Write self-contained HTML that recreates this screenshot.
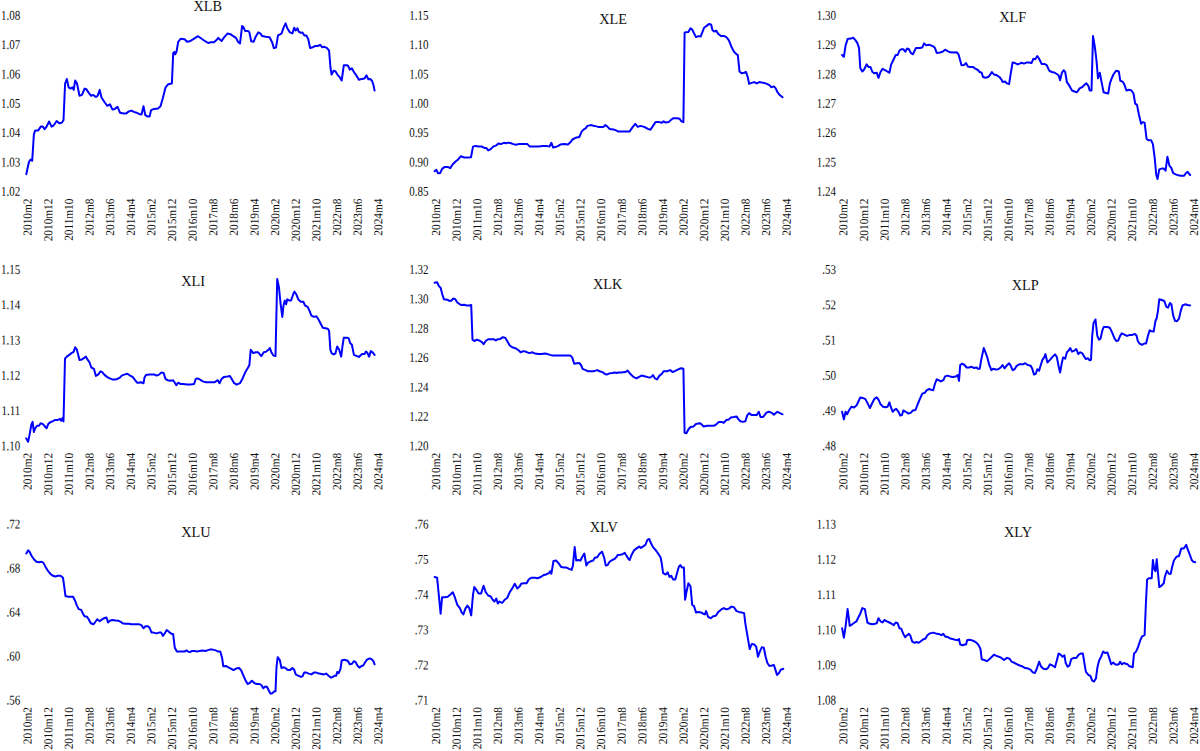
<!DOCTYPE html>
<html><head><meta charset="utf-8"><style>
html,body{margin:0;padding:0;background:#fff;}
body{width:1200px;height:751px;overflow:hidden;}
svg{display:block;}
text{font-family:"Liberation Serif",serif;fill:#111;}
.yl{font-size:13.4px;text-anchor:end;}
.xl{font-size:12.2px;text-anchor:end;}
.tt{font-size:14.3px;text-anchor:middle;}
.ln{fill:none;stroke:#0000ff;stroke-width:2;stroke-linejoin:round;stroke-linecap:round;}
</style></head><body>
<svg width="1200" height="751" viewBox="0 0 1200 751">
<polyline points="26.3,174.2 28.9,162.0 30.6,159.5 32.2,160.8 33.9,134.2 35.2,130.4 38.2,130.4 40.8,126.6 42.8,126.6 44.6,129.1 46.6,126.6 49.1,121.5 51.6,126.6 53.7,125.3 56.7,121.0 59.2,123.3 61.8,122.8 63.5,120.3 65.1,83.5 66.8,79.0 68.6,87.3 70.6,88.6 72.4,87.3 73.7,89.9 75.2,80.5 77.0,83.5 79.5,95.7 82.0,94.9 84.6,88.6 86.3,89.1 88.4,92.4 90.9,95.7 93.4,94.9 95.9,97.0 97.7,95.7 99.7,89.9 101.5,97.5 104.8,102.5 107.3,105.8 109.9,104.3 112.4,109.4 114.9,108.9 117.5,106.8 120.0,112.7 123.8,113.4 126.3,113.4 128.9,111.4 131.4,110.6 133.9,111.9 136.5,112.7 139.0,113.9 141.5,114.4 143.5,106.3 145.3,115.2 147.8,116.5 149.6,116.5 151.1,110.1 154.2,108.9 158.0,108.4 160.5,106.3 163.0,97.5 165.6,87.3 168.1,84.3 171.9,83.5 173.2,53.2 174.4,51.9 175.2,54.4 176.5,51.9 178.2,41.8 180.8,38.7 184.6,39.2 187.1,41.8 189.6,41.3 193.4,39.2 197.2,36.7 198.0,36.2 201.3,38.5 205.1,41.2 208.2,43.0 210.7,42.3 214.0,42.3 216.5,40.0 218.3,37.9 221.6,41.0 224.1,37.4 227.4,33.6 230.4,34.2 232.9,35.9 236.0,37.9 238.0,41.7 240.0,43.5 242.1,26.1 243.6,27.3 245.1,30.9 248.1,30.9 249.4,32.4 251.2,41.2 253.7,41.7 255.7,36.7 258.2,32.4 260.3,33.4 262.0,35.9 265.8,36.7 269.6,37.2 272.2,42.5 273.9,48.1 276.0,47.6 278.0,35.4 281.5,33.6 283.5,27.8 285.6,23.3 287.3,28.3 289.9,32.4 292.4,33.4 294.2,27.8 295.7,30.4 297.5,28.3 298.7,31.6 300.8,32.9 302.5,32.4 304.3,35.4 306.3,35.4 308.3,39.2 310.1,48.1 312.6,47.3 315.2,46.0 317.7,46.0 320.2,44.8 322.3,47.3 324.5,46.8 327.1,48.1 329.1,50.6 330.4,67.0 331.6,74.6 333.6,70.8 335.4,71.3 337.4,74.6 339.7,77.2 341.7,80.5 343.8,65.3 346.8,65.3 348.1,65.8 349.8,69.6 351.9,68.3 353.9,72.1 356.4,75.4 358.9,79.7 362.0,78.9 364.5,78.4 366.5,75.4 368.3,79.2 370.3,78.9 372.1,81.0 373.4,84.8 374.6,90.6" class="ln"/>
<text transform="translate(20.30,19.80) rotate(0.15) scale(0.82,1)" class="yl">1.08</text>
<text transform="translate(20.30,49.13) rotate(0.15) scale(0.82,1)" class="yl">1.07</text>
<text transform="translate(20.30,78.47) rotate(0.15) scale(0.82,1)" class="yl">1.06</text>
<text transform="translate(20.30,107.80) rotate(0.15) scale(0.82,1)" class="yl">1.05</text>
<text transform="translate(20.30,137.13) rotate(0.15) scale(0.82,1)" class="yl">1.04</text>
<text transform="translate(20.30,166.47) rotate(0.15) scale(0.82,1)" class="yl">1.03</text>
<text transform="translate(20.30,195.80) rotate(0.15) scale(0.82,1)" class="yl">1.02</text>
<text transform="translate(31.6,198.6) rotate(-89.85) scale(0.927,1)" class="xl">2010m2</text>
<text transform="translate(52.3,198.6) rotate(-89.85) scale(0.927,1)" class="xl">2010m12</text>
<text transform="translate(72.9,198.6) rotate(-89.85) scale(0.927,1)" class="xl">2011m10</text>
<text transform="translate(93.5,198.6) rotate(-89.85) scale(0.927,1)" class="xl">2012m8</text>
<text transform="translate(114.1,198.6) rotate(-89.85) scale(0.927,1)" class="xl">2013m6</text>
<text transform="translate(134.8,198.6) rotate(-89.85) scale(0.927,1)" class="xl">2014m4</text>
<text transform="translate(155.4,198.6) rotate(-89.85) scale(0.927,1)" class="xl">2015m2</text>
<text transform="translate(176.0,198.6) rotate(-89.85) scale(0.927,1)" class="xl">2015m12</text>
<text transform="translate(196.7,198.6) rotate(-89.85) scale(0.927,1)" class="xl">2016m10</text>
<text transform="translate(217.3,198.6) rotate(-89.85) scale(0.927,1)" class="xl">2017m8</text>
<text transform="translate(237.9,198.6) rotate(-89.85) scale(0.927,1)" class="xl">2018m6</text>
<text transform="translate(258.6,198.6) rotate(-89.85) scale(0.927,1)" class="xl">2019m4</text>
<text transform="translate(279.2,198.6) rotate(-89.85) scale(0.927,1)" class="xl">2020m2</text>
<text transform="translate(299.8,198.6) rotate(-89.85) scale(0.927,1)" class="xl">2020m12</text>
<text transform="translate(320.4,198.6) rotate(-89.85) scale(0.927,1)" class="xl">2021m10</text>
<text transform="translate(341.1,198.6) rotate(-89.85) scale(0.927,1)" class="xl">2022m8</text>
<text transform="translate(361.7,198.6) rotate(-89.85) scale(0.927,1)" class="xl">2023m6</text>
<text transform="translate(382.3,198.6) rotate(-89.85) scale(0.927,1)" class="xl">2024m4</text>
<text x="207.7" y="11.0" class="tt">XLB</text>
<polyline points="434.6,171.2 436.3,169.9 438.1,173.2 440.1,173.2 442.1,168.9 444.7,166.9 447.7,166.9 450.2,168.1 452.8,164.3 455.3,161.8 457.8,159.8 460.9,156.2 464.2,157.5 467.9,157.5 471.0,157.2 473.0,146.6 475.5,145.9 478.6,146.6 481.9,146.6 484.4,147.9 486.2,147.9 488.2,150.4 490.7,149.1 493.2,146.6 496.3,145.4 498.3,143.6 500.8,144.1 503.9,142.8 505.9,143.3 508.4,142.6 511.0,143.3 513.5,144.1 516.0,144.8 518.5,144.1 523.6,144.1 527.4,144.1 529.9,146.6 533.7,146.6 538.8,146.6 542.6,146.1 546.4,145.9 549.4,146.6 551.4,142.8 553.0,147.4 555.2,147.1 557.8,146.1 560.3,144.6 564.1,144.1 567.9,144.6 570.4,142.3 572.4,139.5 575.5,137.8 579.3,137.0 581.8,131.4 583.8,129.4 585.6,128.4 587.4,125.9 590.7,125.1 594.4,125.9 598.2,126.9 601.5,126.9 603.3,126.9 605.3,125.1 607.1,126.4 609.6,128.9 613.4,129.4 617.2,130.9 617.6,131.4 622.6,131.4 626.4,131.4 629.7,131.4 632.8,126.9 635.3,123.8 637.8,126.9 640.4,125.9 644.2,126.9 647.9,128.9 650.5,129.7 653.0,125.9 655.5,122.1 659.3,122.1 661.9,122.8 663.6,121.3 665.7,122.6 668.7,122.1 670.7,120.1 673.2,118.3 677.0,118.3 679.6,118.8 681.3,121.3 683.4,122.1 684.6,32.8 685.9,32.3 688.4,32.0 690.5,28.2 692.2,29.5 694.0,33.3 696.0,37.1 698.5,36.1 700.6,36.6 702.3,32.3 704.1,27.7 706.6,25.9 709.2,23.9 711.2,24.7 712.5,30.2 714.2,31.5 716.3,30.7 718.3,34.0 721.3,36.1 724.4,36.1 726.4,37.1 728.9,40.4 731.4,46.7 734.0,51.7 736.5,54.3 737.8,55.0 739.5,71.5 741.6,73.2 744.1,72.7 746.1,72.0 747.9,77.8 749.1,83.9 751.7,82.9 754.2,82.1 756.7,83.4 759.3,82.1 761.8,82.6 764.3,82.9 767.4,84.1 769.4,85.1 771.4,87.2 773.9,86.4 775.7,88.4 777.5,92.2 779.5,94.8 782.5,97.3" class="ln"/>
<text transform="translate(428.40,19.80) rotate(0.15) scale(0.82,1)" class="yl">1.15</text>
<text transform="translate(428.40,49.13) rotate(0.15) scale(0.82,1)" class="yl">1.10</text>
<text transform="translate(428.40,78.47) rotate(0.15) scale(0.82,1)" class="yl">1.05</text>
<text transform="translate(428.40,107.80) rotate(0.15) scale(0.82,1)" class="yl">1.00</text>
<text transform="translate(428.40,137.13) rotate(0.15) scale(0.82,1)" class="yl">0.95</text>
<text transform="translate(428.40,166.47) rotate(0.15) scale(0.82,1)" class="yl">0.90</text>
<text transform="translate(428.40,195.80) rotate(0.15) scale(0.82,1)" class="yl">0.85</text>
<text transform="translate(440.0,198.6) rotate(-89.85) scale(0.927,1)" class="xl">2010m2</text>
<text transform="translate(460.7,198.6) rotate(-89.85) scale(0.927,1)" class="xl">2010m12</text>
<text transform="translate(481.3,198.6) rotate(-89.85) scale(0.927,1)" class="xl">2011m10</text>
<text transform="translate(501.9,198.6) rotate(-89.85) scale(0.927,1)" class="xl">2012m8</text>
<text transform="translate(522.5,198.6) rotate(-89.85) scale(0.927,1)" class="xl">2013m6</text>
<text transform="translate(543.2,198.6) rotate(-89.85) scale(0.927,1)" class="xl">2014m4</text>
<text transform="translate(563.8,198.6) rotate(-89.85) scale(0.927,1)" class="xl">2015m2</text>
<text transform="translate(584.4,198.6) rotate(-89.85) scale(0.927,1)" class="xl">2015m12</text>
<text transform="translate(605.1,198.6) rotate(-89.85) scale(0.927,1)" class="xl">2016m10</text>
<text transform="translate(625.7,198.6) rotate(-89.85) scale(0.927,1)" class="xl">2017m8</text>
<text transform="translate(646.3,198.6) rotate(-89.85) scale(0.927,1)" class="xl">2018m6</text>
<text transform="translate(667.0,198.6) rotate(-89.85) scale(0.927,1)" class="xl">2019m4</text>
<text transform="translate(687.6,198.6) rotate(-89.85) scale(0.927,1)" class="xl">2020m2</text>
<text transform="translate(708.2,198.6) rotate(-89.85) scale(0.927,1)" class="xl">2020m12</text>
<text transform="translate(728.8,198.6) rotate(-89.85) scale(0.927,1)" class="xl">2021m10</text>
<text transform="translate(749.5,198.6) rotate(-89.85) scale(0.927,1)" class="xl">2022m8</text>
<text transform="translate(770.1,198.6) rotate(-89.85) scale(0.927,1)" class="xl">2023m6</text>
<text transform="translate(790.7,198.6) rotate(-89.85) scale(0.927,1)" class="xl">2024m4</text>
<text x="613.1" y="24.1" class="tt">XLE</text>
<polyline points="842.1,55.0 843.9,56.8 845.6,45.4 847.6,39.1 850.7,38.6 853.2,37.8 855.2,39.9 857.3,42.9 859.0,47.9 860.3,68.2 862.3,71.5 864.1,69.5 866.6,64.4 868.4,66.9 870.4,66.9 872.4,72.0 874.2,73.2 876.7,72.7 878.5,77.8 880.5,72.0 882.6,68.9 885.1,70.2 888.1,72.0 889.4,72.7 891.2,64.4 893.7,59.3 895.7,55.0 897.7,55.0 899.5,50.5 901.3,49.2 903.3,49.2 905.3,51.7 907.1,48.5 908.9,49.2 910.9,53.0 912.9,54.3 914.7,50.5 916.0,47.9 919.8,47.9 922.3,47.4 924.1,43.4 926.1,45.4 928.6,44.7 931.1,45.4 933.7,46.7 934.9,47.9 936.7,53.0 940.0,52.5 942.5,51.7 945.1,49.7 947.6,51.2 950.1,52.3 953.9,52.5 956.9,52.3 958.5,54.3 960.2,60.6 961.5,65.2 964.0,64.9 966.1,63.1 967.8,66.4 970.4,66.9 972.9,66.9 975.4,68.7 977.9,70.0 979.7,72.0 981.7,72.7 983.0,77.0 985.5,77.8 988.1,77.0 989.8,75.3 991.9,72.0 993.9,74.5 996.9,75.3 999.4,77.0 1001.5,79.6 1002.7,82.1 1005.0,81.6 1007.0,83.4 1009.1,84.1 1010.8,73.2 1012.6,62.6 1015.1,63.1 1017.7,64.4 1021.0,63.1 1021.4,62.6 1023.9,63.6 1026.4,62.6 1029.0,62.6 1031.5,63.1 1033.3,58.8 1035.3,59.3 1037.3,56.0 1039.1,58.8 1041.6,63.9 1044.2,63.9 1046.7,65.2 1049.2,70.7 1051.7,72.0 1054.3,72.5 1056.8,74.0 1058.6,75.3 1060.1,80.3 1061.9,72.7 1063.6,70.2 1065.2,72.0 1066.9,82.1 1069.5,85.9 1072.0,90.5 1074.5,91.5 1077.0,92.2 1079.6,88.4 1082.1,87.2 1084.6,84.6 1086.4,83.4 1088.4,85.9 1089.7,90.5 1091.5,90.5 1093.0,36.1 1094.8,46.7 1096.5,60.6 1098.0,78.3 1099.8,72.7 1101.6,82.1 1103.6,92.2 1106.1,93.0 1108.2,93.5 1109.9,83.4 1111.7,78.3 1113.7,74.0 1116.3,70.7 1118.8,71.5 1120.3,80.8 1122.6,81.6 1124.4,84.6 1126.4,90.5 1128.9,89.7 1131.4,90.5 1133.5,93.5 1135.2,103.6 1137.0,104.9 1139.0,115.0 1141.1,123.8 1142.8,122.1 1144.6,122.6 1146.6,139.0 1148.6,140.3 1151.2,140.3 1152.9,144.1 1154.7,158.0 1156.2,174.4 1157.5,179.0 1159.3,169.4 1161.8,168.6 1163.8,168.6 1165.6,170.7 1167.4,156.7 1169.4,165.6 1171.4,168.1 1173.2,173.2 1175.7,174.4 1178.2,175.2 1180.8,175.7 1184.1,175.7 1185.8,173.2 1187.6,171.9 1190.1,175.0" class="ln"/>
<text transform="translate(835.90,19.80) rotate(0.15) scale(0.82,1)" class="yl">1.30</text>
<text transform="translate(835.90,49.13) rotate(0.15) scale(0.82,1)" class="yl">1.29</text>
<text transform="translate(835.90,78.47) rotate(0.15) scale(0.82,1)" class="yl">1.28</text>
<text transform="translate(835.90,107.80) rotate(0.15) scale(0.82,1)" class="yl">1.27</text>
<text transform="translate(835.90,137.13) rotate(0.15) scale(0.82,1)" class="yl">1.26</text>
<text transform="translate(835.90,166.47) rotate(0.15) scale(0.82,1)" class="yl">1.25</text>
<text transform="translate(835.90,195.80) rotate(0.15) scale(0.82,1)" class="yl">1.24</text>
<text transform="translate(847.4,198.6) rotate(-89.85) scale(0.927,1)" class="xl">2010m2</text>
<text transform="translate(868.1,198.6) rotate(-89.85) scale(0.927,1)" class="xl">2010m12</text>
<text transform="translate(888.7,198.6) rotate(-89.85) scale(0.927,1)" class="xl">2011m10</text>
<text transform="translate(909.3,198.6) rotate(-89.85) scale(0.927,1)" class="xl">2012m8</text>
<text transform="translate(929.9,198.6) rotate(-89.85) scale(0.927,1)" class="xl">2013m6</text>
<text transform="translate(950.6,198.6) rotate(-89.85) scale(0.927,1)" class="xl">2014m4</text>
<text transform="translate(971.2,198.6) rotate(-89.85) scale(0.927,1)" class="xl">2015m2</text>
<text transform="translate(991.8,198.6) rotate(-89.85) scale(0.927,1)" class="xl">2015m12</text>
<text transform="translate(1012.5,198.6) rotate(-89.85) scale(0.927,1)" class="xl">2016m10</text>
<text transform="translate(1033.1,198.6) rotate(-89.85) scale(0.927,1)" class="xl">2017m8</text>
<text transform="translate(1053.7,198.6) rotate(-89.85) scale(0.927,1)" class="xl">2018m6</text>
<text transform="translate(1074.4,198.6) rotate(-89.85) scale(0.927,1)" class="xl">2019m4</text>
<text transform="translate(1095.0,198.6) rotate(-89.85) scale(0.927,1)" class="xl">2020m2</text>
<text transform="translate(1115.6,198.6) rotate(-89.85) scale(0.927,1)" class="xl">2020m12</text>
<text transform="translate(1136.2,198.6) rotate(-89.85) scale(0.927,1)" class="xl">2021m10</text>
<text transform="translate(1156.9,198.6) rotate(-89.85) scale(0.927,1)" class="xl">2022m8</text>
<text transform="translate(1177.5,198.6) rotate(-89.85) scale(0.927,1)" class="xl">2023m6</text>
<text transform="translate(1198.1,198.6) rotate(-89.85) scale(0.927,1)" class="xl">2024m4</text>
<text x="1012.8" y="22.3" class="tt">XLF</text>
<polyline points="26.3,438.4 28.1,441.7 29.6,434.6 31.4,424.4 32.6,421.9 33.9,432.0 35.2,428.2 37.2,425.7 39.0,425.7 40.7,423.2 43.3,424.4 45.3,427.0 46.6,428.2 48.3,423.9 50.9,421.9 52.9,421.2 55.4,419.9 57.9,419.9 60.0,418.9 61.2,420.7 62.5,418.1 63.5,421.4 65.0,358.7 66.8,356.6 69.3,354.9 71.9,352.8 73.6,351.8 75.2,347.3 76.9,349.8 79.5,359.9 82.0,359.4 83.8,358.2 85.8,356.6 87.8,359.9 89.6,362.5 91.3,367.5 93.9,368.8 95.9,375.9 98.4,374.4 100.5,371.3 102.2,372.1 104.8,375.1 107.3,377.1 109.8,378.4 112.3,379.4 114.9,379.4 117.4,378.9 119.9,377.6 121.7,375.6 124.2,374.6 127.5,373.8 130.1,375.6 132.6,376.9 135.1,380.2 137.1,382.7 138.9,382.7 140.9,382.2 143.5,383.2 144.5,377.6 146.0,375.1 149.0,374.6 151.6,374.6 154.1,374.4 156.6,375.6 159.1,374.6 161.2,372.6 163.7,373.1 165.5,378.9 167.5,380.2 170.5,380.7 173.1,380.2 174.8,382.7 176.4,385.2 178.1,382.7 180.7,384.0 183.2,384.0 187.0,384.5 190.8,384.5 194.1,384.0 195.8,378.9 197.6,378.4 200.1,379.7 202.7,381.4 206.0,382.2 207.6,382.2 211.4,382.2 214.7,382.2 217.8,380.2 219.5,383.2 221.6,378.9 224.1,376.9 227.4,376.4 229.9,375.9 231.7,378.9 234.2,383.2 236.7,384.7 240.0,383.2 242.6,378.4 245.1,372.6 248.1,367.5 249.4,365.0 250.7,349.8 253.2,353.1 255.7,352.3 258.2,352.3 260.3,354.9 261.3,356.1 263.8,352.3 266.3,351.6 268.4,349.8 269.9,348.0 271.4,352.3 273.4,355.6 275.5,356.1 277.2,279.0 279.0,287.8 280.5,303.0 282.3,316.9 283.5,305.5 284.8,300.5 286.1,304.3 287.3,299.2 289.1,300.5 291.1,300.5 293.2,294.2 294.4,291.6 296.2,294.2 298.2,299.2 300.8,301.7 303.3,301.7 305.1,305.5 307.6,306.8 309.4,310.6 311.4,315.7 313.9,316.9 316.4,316.2 318.5,319.5 320.2,322.7 322.8,327.8 325.3,328.3 327.8,328.8 329.1,330.8 330.4,349.8 331.6,353.1 333.6,354.4 335.4,353.6 337.2,346.5 339.2,349.8 341.2,356.6 342.5,346.0 343.8,337.7 346.8,337.7 348.8,338.4 350.1,343.0 351.9,344.8 353.9,354.9 356.9,356.1 358.9,356.9 362.0,354.1 364.5,354.1 365.8,351.6 367.0,352.3 369.1,356.6 370.8,351.1 372.6,352.3 374.6,354.9" class="ln"/>
<text transform="translate(20.30,273.90) rotate(0.15) scale(0.82,1)" class="yl">1.15</text>
<text transform="translate(20.30,309.16) rotate(0.15) scale(0.82,1)" class="yl">1.14</text>
<text transform="translate(20.30,344.42) rotate(0.15) scale(0.82,1)" class="yl">1.13</text>
<text transform="translate(20.30,379.68) rotate(0.15) scale(0.82,1)" class="yl">1.12</text>
<text transform="translate(20.30,414.94) rotate(0.15) scale(0.82,1)" class="yl">1.11</text>
<text transform="translate(20.30,450.20) rotate(0.15) scale(0.82,1)" class="yl">1.10</text>
<text transform="translate(31.6,452.9) rotate(-89.85) scale(0.927,1)" class="xl">2010m2</text>
<text transform="translate(52.3,452.9) rotate(-89.85) scale(0.927,1)" class="xl">2010m12</text>
<text transform="translate(72.9,452.9) rotate(-89.85) scale(0.927,1)" class="xl">2011m10</text>
<text transform="translate(93.5,452.9) rotate(-89.85) scale(0.927,1)" class="xl">2012m8</text>
<text transform="translate(114.1,452.9) rotate(-89.85) scale(0.927,1)" class="xl">2013m6</text>
<text transform="translate(134.8,452.9) rotate(-89.85) scale(0.927,1)" class="xl">2014m4</text>
<text transform="translate(155.4,452.9) rotate(-89.85) scale(0.927,1)" class="xl">2015m2</text>
<text transform="translate(176.0,452.9) rotate(-89.85) scale(0.927,1)" class="xl">2015m12</text>
<text transform="translate(196.7,452.9) rotate(-89.85) scale(0.927,1)" class="xl">2016m10</text>
<text transform="translate(217.3,452.9) rotate(-89.85) scale(0.927,1)" class="xl">2017m8</text>
<text transform="translate(237.9,452.9) rotate(-89.85) scale(0.927,1)" class="xl">2018m6</text>
<text transform="translate(258.6,452.9) rotate(-89.85) scale(0.927,1)" class="xl">2019m4</text>
<text transform="translate(279.2,452.9) rotate(-89.85) scale(0.927,1)" class="xl">2020m2</text>
<text transform="translate(299.8,452.9) rotate(-89.85) scale(0.927,1)" class="xl">2020m12</text>
<text transform="translate(320.4,452.9) rotate(-89.85) scale(0.927,1)" class="xl">2021m10</text>
<text transform="translate(341.1,452.9) rotate(-89.85) scale(0.927,1)" class="xl">2022m8</text>
<text transform="translate(361.7,452.9) rotate(-89.85) scale(0.927,1)" class="xl">2023m6</text>
<text transform="translate(382.3,452.9) rotate(-89.85) scale(0.927,1)" class="xl">2024m4</text>
<text x="193.2" y="286.3" class="tt">XLI</text>
<polyline points="434.6,282.8 437.1,282.3 438.9,286.1 440.6,287.8 442.1,293.6 443.9,299.2 447.2,299.7 449.7,301.0 451.5,300.5 453.3,298.5 455.3,299.2 457.3,302.5 459.9,304.3 461.6,305.0 464.2,304.8 466.7,305.5 469.2,305.5 471.2,305.0 472.5,339.7 474.3,341.0 476.8,339.7 479.3,340.5 481.9,342.2 483.6,344.2 485.7,341.0 488.2,339.2 490.7,339.2 493.8,339.2 495.8,340.5 497.8,339.2 500.3,338.9 502.9,337.2 505.4,337.9 507.2,341.0 509.7,345.5 512.2,347.3 516.0,348.5 518.5,350.3 520.6,352.3 523.6,351.1 526.1,351.8 529.2,353.1 532.5,352.3 535.0,353.6 538.3,354.1 541.3,354.1 545.1,353.6 547.6,354.1 550.2,354.9 552.7,355.6 556.5,355.6 561.6,355.6 566.6,355.6 570.4,355.6 572.2,357.4 574.2,363.7 576.7,363.2 579.3,363.0 581.0,365.0 582.6,368.8 585.6,370.1 588.1,371.3 590.7,371.3 593.2,371.3 595.7,370.6 597.5,370.1 599.5,371.3 602.5,372.1 604.6,373.8 606.6,374.6 609.6,373.3 612.2,373.1 614.7,372.6 617.2,373.1 617.6,372.6 621.4,372.6 625.2,372.1 627.7,370.6 630.2,373.8 633.3,376.9 636.6,378.4 639.1,376.9 641.6,375.6 645.4,376.4 649.2,377.6 651.0,377.1 653.0,375.1 655.0,378.4 657.1,379.4 659.3,375.9 661.9,373.8 663.6,371.3 666.9,371.3 670.2,370.1 672.7,372.1 675.3,370.8 678.3,369.3 681.3,368.3 683.4,368.8 684.6,432.8 686.4,433.3 688.4,429.5 690.5,427.0 693.5,426.5 696.0,423.9 699.8,423.2 701.6,424.4 703.6,426.5 707.4,425.7 711.2,425.7 714.2,425.7 716.3,424.4 718.8,421.9 721.3,421.9 723.8,422.7 726.4,419.9 728.9,419.4 730.9,417.4 734.0,416.9 736.5,416.4 738.5,419.4 740.3,421.2 742.8,421.9 745.4,421.2 747.1,415.6 749.1,413.1 751.7,415.1 754.2,415.1 756.7,415.1 758.8,411.8 760.5,416.9 763.1,416.9 764.8,414.8 766.4,412.6 768.9,411.8 771.4,412.6 773.9,414.8 775.7,413.1 777.5,411.8 780.0,413.1 782.5,414.3" class="ln"/>
<text transform="translate(428.40,273.90) rotate(0.15) scale(0.82,1)" class="yl">1.32</text>
<text transform="translate(428.40,303.28) rotate(0.15) scale(0.82,1)" class="yl">1.30</text>
<text transform="translate(428.40,332.67) rotate(0.15) scale(0.82,1)" class="yl">1.28</text>
<text transform="translate(428.40,362.05) rotate(0.15) scale(0.82,1)" class="yl">1.26</text>
<text transform="translate(428.40,391.43) rotate(0.15) scale(0.82,1)" class="yl">1.24</text>
<text transform="translate(428.40,420.82) rotate(0.15) scale(0.82,1)" class="yl">1.22</text>
<text transform="translate(428.40,450.20) rotate(0.15) scale(0.82,1)" class="yl">1.20</text>
<text transform="translate(440.0,452.9) rotate(-89.85) scale(0.927,1)" class="xl">2010m2</text>
<text transform="translate(460.7,452.9) rotate(-89.85) scale(0.927,1)" class="xl">2010m12</text>
<text transform="translate(481.3,452.9) rotate(-89.85) scale(0.927,1)" class="xl">2011m10</text>
<text transform="translate(501.9,452.9) rotate(-89.85) scale(0.927,1)" class="xl">2012m8</text>
<text transform="translate(522.5,452.9) rotate(-89.85) scale(0.927,1)" class="xl">2013m6</text>
<text transform="translate(543.2,452.9) rotate(-89.85) scale(0.927,1)" class="xl">2014m4</text>
<text transform="translate(563.8,452.9) rotate(-89.85) scale(0.927,1)" class="xl">2015m2</text>
<text transform="translate(584.4,452.9) rotate(-89.85) scale(0.927,1)" class="xl">2015m12</text>
<text transform="translate(605.1,452.9) rotate(-89.85) scale(0.927,1)" class="xl">2016m10</text>
<text transform="translate(625.7,452.9) rotate(-89.85) scale(0.927,1)" class="xl">2017m8</text>
<text transform="translate(646.3,452.9) rotate(-89.85) scale(0.927,1)" class="xl">2018m6</text>
<text transform="translate(667.0,452.9) rotate(-89.85) scale(0.927,1)" class="xl">2019m4</text>
<text transform="translate(687.6,452.9) rotate(-89.85) scale(0.927,1)" class="xl">2020m2</text>
<text transform="translate(708.2,452.9) rotate(-89.85) scale(0.927,1)" class="xl">2020m12</text>
<text transform="translate(728.8,452.9) rotate(-89.85) scale(0.927,1)" class="xl">2021m10</text>
<text transform="translate(749.5,452.9) rotate(-89.85) scale(0.927,1)" class="xl">2022m8</text>
<text transform="translate(770.1,452.9) rotate(-89.85) scale(0.927,1)" class="xl">2023m6</text>
<text transform="translate(790.7,452.9) rotate(-89.85) scale(0.927,1)" class="xl">2024m4</text>
<text x="607.6" y="289.1" class="tt">XLK</text>
<polyline points="842.1,411.8 843.9,419.4 845.6,411.8 847.1,414.3 848.9,410.5 851.4,406.7 854.0,407.5 856.5,405.5 858.3,401.7 860.3,397.4 862.8,397.9 865.4,399.1 867.4,402.9 869.9,408.0 871.7,404.2 874.2,399.1 876.7,397.4 878.5,399.7 880.5,404.2 883.1,406.7 885.6,407.2 887.6,406.7 889.4,402.4 890.7,406.7 892.7,411.8 894.5,409.8 896.2,408.8 898.2,411.3 900.3,415.6 902.0,415.1 903.3,410.5 905.8,411.8 908.4,413.6 910.9,412.6 912.9,410.5 915.5,410.0 917.2,405.5 919.8,399.1 922.3,393.6 924.8,392.8 926.6,390.3 929.1,389.0 931.1,389.8 933.2,390.3 934.9,384.0 936.7,379.4 938.7,380.2 940.8,381.4 943.3,380.2 945.1,376.4 947.6,375.6 950.1,376.4 952.6,376.9 955.9,376.4 957.7,375.1 959.0,380.9 960.2,365.0 962.0,363.7 964.5,365.0 966.6,367.5 969.1,367.5 971.6,366.8 974.1,368.0 976.7,367.5 977.9,368.8 979.7,368.8 981.2,359.9 983.8,348.0 985.5,352.3 987.3,357.4 989.3,365.0 991.4,370.1 993.1,368.8 995.7,369.5 998.2,369.3 1000.7,367.5 1002.5,365.0 1004.5,368.3 1006.5,365.8 1009.1,363.2 1010.8,365.8 1012.6,370.1 1014.6,369.3 1016.7,365.8 1019.7,364.2 1023.5,364.2 1025.2,363.2 1027.7,365.0 1030.7,365.8 1032.3,368.8 1034.0,374.6 1035.8,373.8 1037.3,369.3 1039.1,370.8 1040.4,366.3 1042.4,359.9 1044.2,357.4 1045.4,354.1 1047.4,362.5 1050.0,359.9 1052.5,356.9 1055.0,354.4 1056.8,356.9 1058.6,366.3 1060.1,372.6 1061.9,362.5 1063.1,357.4 1065.2,358.7 1066.9,352.3 1068.7,350.6 1070.2,348.0 1072.0,351.6 1074.5,350.6 1076.3,349.1 1078.3,354.1 1080.3,352.3 1082.1,353.1 1083.9,356.1 1085.9,359.2 1087.9,358.2 1089.7,360.4 1091.0,359.9 1092.2,335.9 1093.5,323.2 1095.5,319.5 1097.3,335.9 1099.1,339.7 1100.6,338.4 1102.3,330.8 1103.6,327.0 1107.4,327.0 1109.9,327.8 1112.5,333.4 1114.5,338.4 1116.3,341.0 1118.3,340.5 1120.1,335.9 1121.8,333.4 1124.4,334.6 1126.9,335.9 1129.4,335.1 1131.9,335.1 1134.5,333.9 1136.5,335.4 1137.8,341.0 1139.5,343.5 1142.1,344.8 1144.1,343.5 1146.1,343.5 1147.9,335.9 1149.7,330.3 1151.7,331.3 1153.7,331.6 1155.5,320.7 1156.7,318.2 1158.0,310.6 1159.3,299.2 1161.8,300.0 1164.3,301.0 1166.4,306.8 1168.1,307.6 1169.9,303.0 1171.4,304.3 1173.2,315.7 1175.0,320.7 1177.0,321.2 1179.0,318.7 1180.8,310.6 1182.5,305.5 1185.1,304.3 1187.6,305.0 1190.1,305.5" class="ln"/>
<text transform="translate(835.90,273.90) rotate(0.15) scale(0.82,1)" class="yl">.53</text>
<text transform="translate(835.90,309.16) rotate(0.15) scale(0.82,1)" class="yl">.52</text>
<text transform="translate(835.90,344.42) rotate(0.15) scale(0.82,1)" class="yl">.51</text>
<text transform="translate(835.90,379.68) rotate(0.15) scale(0.82,1)" class="yl">.50</text>
<text transform="translate(835.90,414.94) rotate(0.15) scale(0.82,1)" class="yl">.49</text>
<text transform="translate(835.90,450.20) rotate(0.15) scale(0.82,1)" class="yl">.48</text>
<text transform="translate(847.4,452.9) rotate(-89.85) scale(0.927,1)" class="xl">2010m2</text>
<text transform="translate(868.1,452.9) rotate(-89.85) scale(0.927,1)" class="xl">2010m12</text>
<text transform="translate(888.7,452.9) rotate(-89.85) scale(0.927,1)" class="xl">2011m10</text>
<text transform="translate(909.3,452.9) rotate(-89.85) scale(0.927,1)" class="xl">2012m8</text>
<text transform="translate(929.9,452.9) rotate(-89.85) scale(0.927,1)" class="xl">2013m6</text>
<text transform="translate(950.6,452.9) rotate(-89.85) scale(0.927,1)" class="xl">2014m4</text>
<text transform="translate(971.2,452.9) rotate(-89.85) scale(0.927,1)" class="xl">2015m2</text>
<text transform="translate(991.8,452.9) rotate(-89.85) scale(0.927,1)" class="xl">2015m12</text>
<text transform="translate(1012.5,452.9) rotate(-89.85) scale(0.927,1)" class="xl">2016m10</text>
<text transform="translate(1033.1,452.9) rotate(-89.85) scale(0.927,1)" class="xl">2017m8</text>
<text transform="translate(1053.7,452.9) rotate(-89.85) scale(0.927,1)" class="xl">2018m6</text>
<text transform="translate(1074.4,452.9) rotate(-89.85) scale(0.927,1)" class="xl">2019m4</text>
<text transform="translate(1095.0,452.9) rotate(-89.85) scale(0.927,1)" class="xl">2020m2</text>
<text transform="translate(1115.6,452.9) rotate(-89.85) scale(0.927,1)" class="xl">2020m12</text>
<text transform="translate(1136.2,452.9) rotate(-89.85) scale(0.927,1)" class="xl">2021m10</text>
<text transform="translate(1156.9,452.9) rotate(-89.85) scale(0.927,1)" class="xl">2022m8</text>
<text transform="translate(1177.5,452.9) rotate(-89.85) scale(0.927,1)" class="xl">2023m6</text>
<text transform="translate(1198.1,452.9) rotate(-89.85) scale(0.927,1)" class="xl">2024m4</text>
<text x="1025.2" y="290.1" class="tt">XLP</text>
<polyline points="26.3,553.5 28.1,550.4 29.6,551.7 31.4,555.5 33.9,559.3 36.4,561.8 39.0,562.3 41.5,561.8 43.3,562.6 45.3,566.4 47.8,570.7 50.4,573.9 52.9,575.7 55.4,576.5 57.9,575.7 60.5,575.7 63.0,577.7 64.3,587.1 65.5,596.0 68.1,596.7 70.6,596.7 73.1,596.7 75.2,601.0 76.9,605.6 78.7,609.1 81.2,609.9 82.7,613.2 84.5,616.2 87.0,616.7 88.8,619.5 90.8,623.3 93.4,624.3 95.4,621.8 97.2,619.2 99.7,621.3 102.2,619.2 104.8,618.0 106.5,617.5 108.0,622.5 109.8,620.8 112.3,620.0 115.6,620.5 118.7,620.8 120.7,621.8 122.5,623.3 125.0,623.8 128.8,623.8 131.3,624.3 135.1,624.3 138.9,624.3 141.4,625.1 143.5,628.3 145.2,626.3 147.8,626.3 149.5,627.6 151.6,632.6 153.6,632.6 156.6,633.4 159.1,632.6 161.2,632.6 162.9,635.9 164.7,633.4 166.7,630.1 168.0,630.9 169.8,632.6 171.8,633.9 173.1,633.9 174.8,647.8 176.9,651.6 179.4,651.6 181.9,651.6 184.4,651.6 186.5,650.4 188.2,651.6 190.0,652.1 192.0,650.9 194.6,651.1 197.1,651.6 199.6,650.9 202.2,650.4 206.0,650.9 207.1,650.4 209.7,649.6 212.7,649.6 215.7,650.4 218.3,651.6 220.3,651.6 222.1,657.9 223.3,666.3 225.9,666.0 228.4,667.3 230.9,668.6 233.5,670.1 236.0,668.6 239.3,668.1 241.3,670.6 243.1,674.9 245.1,679.4 247.6,684.0 249.4,683.2 251.9,680.7 254.5,683.2 257.0,684.0 259.5,684.0 261.3,685.0 263.3,688.3 265.3,686.5 267.1,687.0 268.9,690.8 270.4,693.4 272.2,693.4 273.9,691.6 275.5,691.3 276.5,666.8 277.7,657.2 279.8,660.0 281.5,668.1 283.5,667.3 285.6,668.1 287.3,669.8 289.9,670.1 292.4,668.1 294.2,669.8 295.7,674.4 298.2,675.7 300.8,676.9 302.5,676.4 304.3,672.4 306.3,672.6 308.8,673.6 311.4,674.4 313.9,672.6 316.4,672.6 319.0,673.6 321.5,673.9 324.0,674.4 326.1,673.6 328.6,675.7 331.1,677.7 332.9,676.9 334.7,675.7 336.2,675.7 337.2,671.9 338.7,673.1 340.5,668.8 341.7,660.5 344.3,659.7 346.8,660.5 348.1,661.2 349.8,664.3 351.9,663.8 353.9,661.2 355.7,662.2 357.4,665.5 359.4,667.6 361.5,666.0 363.2,665.5 365.0,662.5 367.0,659.7 369.6,658.4 371.6,659.2 373.4,661.2 374.6,664.3" class="ln"/>
<text transform="translate(20.30,528.60) rotate(0.15) scale(0.82,1)" class="yl">.72</text>
<text transform="translate(20.30,572.60) rotate(0.15) scale(0.82,1)" class="yl">.68</text>
<text transform="translate(20.30,616.60) rotate(0.15) scale(0.82,1)" class="yl">.64</text>
<text transform="translate(20.30,660.60) rotate(0.15) scale(0.82,1)" class="yl">.60</text>
<text transform="translate(20.30,704.60) rotate(0.15) scale(0.82,1)" class="yl">.56</text>
<text transform="translate(31.6,707.1) rotate(-89.85) scale(0.927,1)" class="xl">2010m2</text>
<text transform="translate(52.3,707.1) rotate(-89.85) scale(0.927,1)" class="xl">2010m12</text>
<text transform="translate(72.9,707.1) rotate(-89.85) scale(0.927,1)" class="xl">2011m10</text>
<text transform="translate(93.5,707.1) rotate(-89.85) scale(0.927,1)" class="xl">2012m8</text>
<text transform="translate(114.1,707.1) rotate(-89.85) scale(0.927,1)" class="xl">2013m6</text>
<text transform="translate(134.8,707.1) rotate(-89.85) scale(0.927,1)" class="xl">2014m4</text>
<text transform="translate(155.4,707.1) rotate(-89.85) scale(0.927,1)" class="xl">2015m2</text>
<text transform="translate(176.0,707.1) rotate(-89.85) scale(0.927,1)" class="xl">2015m12</text>
<text transform="translate(196.7,707.1) rotate(-89.85) scale(0.927,1)" class="xl">2016m10</text>
<text transform="translate(217.3,707.1) rotate(-89.85) scale(0.927,1)" class="xl">2017m8</text>
<text transform="translate(237.9,707.1) rotate(-89.85) scale(0.927,1)" class="xl">2018m6</text>
<text transform="translate(258.6,707.1) rotate(-89.85) scale(0.927,1)" class="xl">2019m4</text>
<text transform="translate(279.2,707.1) rotate(-89.85) scale(0.927,1)" class="xl">2020m2</text>
<text transform="translate(299.8,707.1) rotate(-89.85) scale(0.927,1)" class="xl">2020m12</text>
<text transform="translate(320.4,707.1) rotate(-89.85) scale(0.927,1)" class="xl">2021m10</text>
<text transform="translate(341.1,707.1) rotate(-89.85) scale(0.927,1)" class="xl">2022m8</text>
<text transform="translate(361.7,707.1) rotate(-89.85) scale(0.927,1)" class="xl">2023m6</text>
<text transform="translate(382.3,707.1) rotate(-89.85) scale(0.927,1)" class="xl">2024m4</text>
<text x="196.0" y="536.9" class="tt">XLU</text>
<polyline points="434.6,577.0 437.1,577.7 438.9,596.0 440.6,613.7 442.1,597.2 444.7,597.2 447.7,596.7 450.2,594.7 452.8,592.2 454.8,597.2 457.3,604.8 459.9,608.1 461.6,612.4 463.4,614.4 465.4,608.6 467.4,605.6 469.2,608.1 471.2,615.4 473.0,594.7 474.3,587.1 476.8,590.4 478.6,593.4 481.1,593.4 483.6,585.8 485.7,592.2 488.2,595.5 490.7,596.5 492.7,599.8 494.5,601.5 496.3,598.5 497.8,603.5 499.6,601.5 502.1,603.0 504.6,599.8 507.2,598.0 509.7,592.2 512.2,588.4 514.8,583.8 517.3,588.4 519.8,586.3 521.1,583.8 523.6,583.3 526.6,583.3 528.7,579.5 531.2,577.7 535.0,577.7 537.5,578.2 540.8,577.0 543.3,575.2 545.9,574.5 548.9,573.2 550.2,571.2 551.4,573.7 553.5,561.0 556.0,560.5 558.5,563.1 561.1,566.9 564.1,567.4 566.6,567.6 569.1,568.9 571.7,569.9 572.9,565.6 574.7,547.1 576.2,560.5 578.0,560.0 580.5,560.5 582.3,556.7 584.3,553.5 586.4,565.6 588.1,562.6 590.7,561.3 593.2,560.5 595.0,557.5 597.0,557.5 599.5,553.7 602.0,551.7 604.1,557.5 605.8,565.6 607.6,565.1 609.6,561.8 612.2,560.0 614.7,558.8 617.2,556.0 617.6,555.0 620.1,554.7 622.6,554.2 624.7,552.9 626.4,555.5 628.2,558.5 629.7,560.0 631.5,555.0 634.0,550.4 636.6,548.4 639.1,546.6 640.9,547.9 642.9,546.6 645.4,544.9 647.4,539.8 649.2,539.0 651.0,543.3 653.0,547.1 655.5,549.9 658.1,553.5 660.6,557.5 661.9,564.3 663.1,573.2 665.7,574.5 667.7,572.4 669.5,577.0 671.2,575.7 673.2,579.5 675.3,579.5 677.0,573.2 678.8,566.9 680.3,565.1 682.1,567.6 683.9,567.6 685.1,599.8 686.4,592.2 688.4,583.3 690.5,586.3 692.2,604.8 694.0,606.1 696.0,612.4 698.5,611.9 701.1,612.4 703.1,613.7 704.9,614.4 706.1,611.1 708.2,617.0 710.7,618.2 713.2,616.2 715.8,615.7 718.3,611.9 721.3,609.4 723.8,608.1 726.4,609.4 728.9,608.6 731.4,606.6 734.0,607.3 736.5,611.1 739.0,611.9 741.6,612.4 744.1,613.2 745.4,623.8 747.1,633.9 749.7,649.1 751.7,644.0 754.2,644.5 756.2,646.6 758.0,656.7 759.8,651.6 761.8,647.3 763.8,647.8 765.6,656.7 767.4,663.0 769.4,666.0 771.9,665.5 773.9,665.0 775.7,670.6 777.0,674.9 779.0,673.1 780.8,669.8 783.3,668.8" class="ln"/>
<text transform="translate(428.40,528.60) rotate(0.15) scale(0.82,1)" class="yl">.76</text>
<text transform="translate(428.40,563.80) rotate(0.15) scale(0.82,1)" class="yl">.75</text>
<text transform="translate(428.40,599.00) rotate(0.15) scale(0.82,1)" class="yl">.74</text>
<text transform="translate(428.40,634.20) rotate(0.15) scale(0.82,1)" class="yl">.73</text>
<text transform="translate(428.40,669.40) rotate(0.15) scale(0.82,1)" class="yl">.72</text>
<text transform="translate(428.40,704.60) rotate(0.15) scale(0.82,1)" class="yl">.71</text>
<text transform="translate(440.0,707.1) rotate(-89.85) scale(0.927,1)" class="xl">2010m2</text>
<text transform="translate(460.7,707.1) rotate(-89.85) scale(0.927,1)" class="xl">2010m12</text>
<text transform="translate(481.3,707.1) rotate(-89.85) scale(0.927,1)" class="xl">2011m10</text>
<text transform="translate(501.9,707.1) rotate(-89.85) scale(0.927,1)" class="xl">2012m8</text>
<text transform="translate(522.5,707.1) rotate(-89.85) scale(0.927,1)" class="xl">2013m6</text>
<text transform="translate(543.2,707.1) rotate(-89.85) scale(0.927,1)" class="xl">2014m4</text>
<text transform="translate(563.8,707.1) rotate(-89.85) scale(0.927,1)" class="xl">2015m2</text>
<text transform="translate(584.4,707.1) rotate(-89.85) scale(0.927,1)" class="xl">2015m12</text>
<text transform="translate(605.1,707.1) rotate(-89.85) scale(0.927,1)" class="xl">2016m10</text>
<text transform="translate(625.7,707.1) rotate(-89.85) scale(0.927,1)" class="xl">2017m8</text>
<text transform="translate(646.3,707.1) rotate(-89.85) scale(0.927,1)" class="xl">2018m6</text>
<text transform="translate(667.0,707.1) rotate(-89.85) scale(0.927,1)" class="xl">2019m4</text>
<text transform="translate(687.6,707.1) rotate(-89.85) scale(0.927,1)" class="xl">2020m2</text>
<text transform="translate(708.2,707.1) rotate(-89.85) scale(0.927,1)" class="xl">2020m12</text>
<text transform="translate(728.8,707.1) rotate(-89.85) scale(0.927,1)" class="xl">2021m10</text>
<text transform="translate(749.5,707.1) rotate(-89.85) scale(0.927,1)" class="xl">2022m8</text>
<text transform="translate(770.1,707.1) rotate(-89.85) scale(0.927,1)" class="xl">2023m6</text>
<text transform="translate(790.7,707.1) rotate(-89.85) scale(0.927,1)" class="xl">2024m4</text>
<text x="603.8" y="531.9" class="tt">XLV</text>
<polyline points="842.1,628.3 843.9,637.7 845.6,626.3 847.6,609.1 848.9,618.7 849.7,625.8 852.2,624.3 854.7,622.5 856.5,621.3 858.3,617.5 860.3,613.7 862.3,608.1 864.9,609.1 865.9,614.9 867.4,622.5 869.9,623.8 872.4,624.3 875.0,623.8 876.7,623.3 878.5,618.2 880.5,621.3 882.6,622.5 884.3,620.0 886.9,621.3 889.4,622.5 891.9,623.8 893.7,625.1 895.7,622.5 897.7,623.3 899.5,628.3 901.3,628.8 903.3,633.9 905.3,637.2 907.1,635.2 908.9,633.9 910.4,635.9 912.2,641.5 914.7,642.8 916.5,642.0 918.5,642.8 920.5,641.5 923.0,639.5 925.6,638.5 927.3,635.2 929.9,633.4 933.2,632.6 935.7,633.4 938.7,633.9 941.3,635.2 943.3,633.9 945.1,636.4 947.6,636.9 950.1,638.5 952.6,639.0 955.2,639.7 957.7,640.2 959.0,639.0 960.2,644.5 962.8,645.3 964.5,644.5 966.1,644.5 967.1,640.2 969.1,639.7 971.6,640.2 974.7,641.5 976.7,642.8 978.7,645.3 980.5,649.1 981.7,659.2 984.3,660.0 986.8,661.2 989.3,659.2 991.9,656.7 993.9,654.7 996.4,655.9 998.9,656.7 1001.5,657.9 1004.0,660.0 1007.0,657.9 1009.6,658.7 1011.6,661.7 1014.6,663.0 1017.2,664.3 1019.7,665.5 1022.2,666.3 1025.2,668.1 1028.2,668.6 1030.7,669.8 1032.8,672.4 1034.8,673.1 1036.6,669.3 1039.1,661.7 1040.9,666.3 1043.4,668.8 1045.9,669.3 1047.9,668.1 1050.0,664.3 1052.5,665.5 1055.0,667.3 1056.8,660.5 1058.6,653.6 1060.6,654.7 1062.6,656.7 1064.4,655.4 1065.7,663.0 1067.7,666.8 1069.5,665.5 1071.2,659.2 1073.8,657.9 1076.3,657.9 1078.8,654.7 1080.8,653.6 1082.9,653.6 1084.6,664.3 1085.9,671.9 1088.4,674.9 1090.5,676.2 1092.2,680.7 1094.0,681.5 1096.0,678.2 1097.3,668.1 1099.1,660.5 1101.1,656.7 1103.1,651.6 1104.9,652.9 1107.4,652.4 1109.2,657.9 1111.2,664.3 1113.2,662.5 1115.0,664.3 1116.8,664.8 1118.8,664.3 1120.1,661.7 1121.8,664.3 1123.8,663.0 1125.9,663.8 1127.6,664.3 1129.4,666.3 1131.4,666.8 1132.7,667.3 1134.0,653.6 1136.0,651.6 1137.8,647.8 1140.3,640.2 1142.1,636.4 1144.6,635.2 1145.9,603.5 1147.1,579.5 1149.1,578.2 1151.7,578.2 1152.9,560.0 1154.2,568.9 1155.5,571.2 1156.7,559.3 1158.0,573.2 1159.3,587.1 1161.3,585.8 1163.8,583.3 1164.8,577.0 1166.9,570.7 1168.9,573.7 1170.7,573.9 1171.9,568.1 1173.9,560.5 1176.5,556.7 1179.0,556.0 1181.3,548.4 1183.8,548.4 1186.3,544.9 1187.6,549.2 1189.6,554.2 1191.7,560.0 1193.4,561.8 1195.2,562.3" class="ln"/>
<text transform="translate(835.90,528.60) rotate(0.15) scale(0.82,1)" class="yl">1.13</text>
<text transform="translate(835.90,563.80) rotate(0.15) scale(0.82,1)" class="yl">1.12</text>
<text transform="translate(835.90,599.00) rotate(0.15) scale(0.82,1)" class="yl">1.11</text>
<text transform="translate(835.90,634.20) rotate(0.15) scale(0.82,1)" class="yl">1.10</text>
<text transform="translate(835.90,669.40) rotate(0.15) scale(0.82,1)" class="yl">1.09</text>
<text transform="translate(835.90,704.60) rotate(0.15) scale(0.82,1)" class="yl">1.08</text>
<text transform="translate(847.4,707.1) rotate(-89.85) scale(0.927,1)" class="xl">2010m2</text>
<text transform="translate(868.1,707.1) rotate(-89.85) scale(0.927,1)" class="xl">2010m12</text>
<text transform="translate(888.7,707.1) rotate(-89.85) scale(0.927,1)" class="xl">2011m10</text>
<text transform="translate(909.3,707.1) rotate(-89.85) scale(0.927,1)" class="xl">2012m8</text>
<text transform="translate(929.9,707.1) rotate(-89.85) scale(0.927,1)" class="xl">2013m6</text>
<text transform="translate(950.6,707.1) rotate(-89.85) scale(0.927,1)" class="xl">2014m4</text>
<text transform="translate(971.2,707.1) rotate(-89.85) scale(0.927,1)" class="xl">2015m2</text>
<text transform="translate(991.8,707.1) rotate(-89.85) scale(0.927,1)" class="xl">2015m12</text>
<text transform="translate(1012.5,707.1) rotate(-89.85) scale(0.927,1)" class="xl">2016m10</text>
<text transform="translate(1033.1,707.1) rotate(-89.85) scale(0.927,1)" class="xl">2017m8</text>
<text transform="translate(1053.7,707.1) rotate(-89.85) scale(0.927,1)" class="xl">2018m6</text>
<text transform="translate(1074.4,707.1) rotate(-89.85) scale(0.927,1)" class="xl">2019m4</text>
<text transform="translate(1095.0,707.1) rotate(-89.85) scale(0.927,1)" class="xl">2020m2</text>
<text transform="translate(1115.6,707.1) rotate(-89.85) scale(0.927,1)" class="xl">2020m12</text>
<text transform="translate(1136.2,707.1) rotate(-89.85) scale(0.927,1)" class="xl">2021m10</text>
<text transform="translate(1156.9,707.1) rotate(-89.85) scale(0.927,1)" class="xl">2022m8</text>
<text transform="translate(1177.5,707.1) rotate(-89.85) scale(0.927,1)" class="xl">2023m6</text>
<text transform="translate(1198.1,707.1) rotate(-89.85) scale(0.927,1)" class="xl">2024m4</text>
<text x="1018.0" y="536.9" class="tt">XLY</text>
</svg>
</body></html>
